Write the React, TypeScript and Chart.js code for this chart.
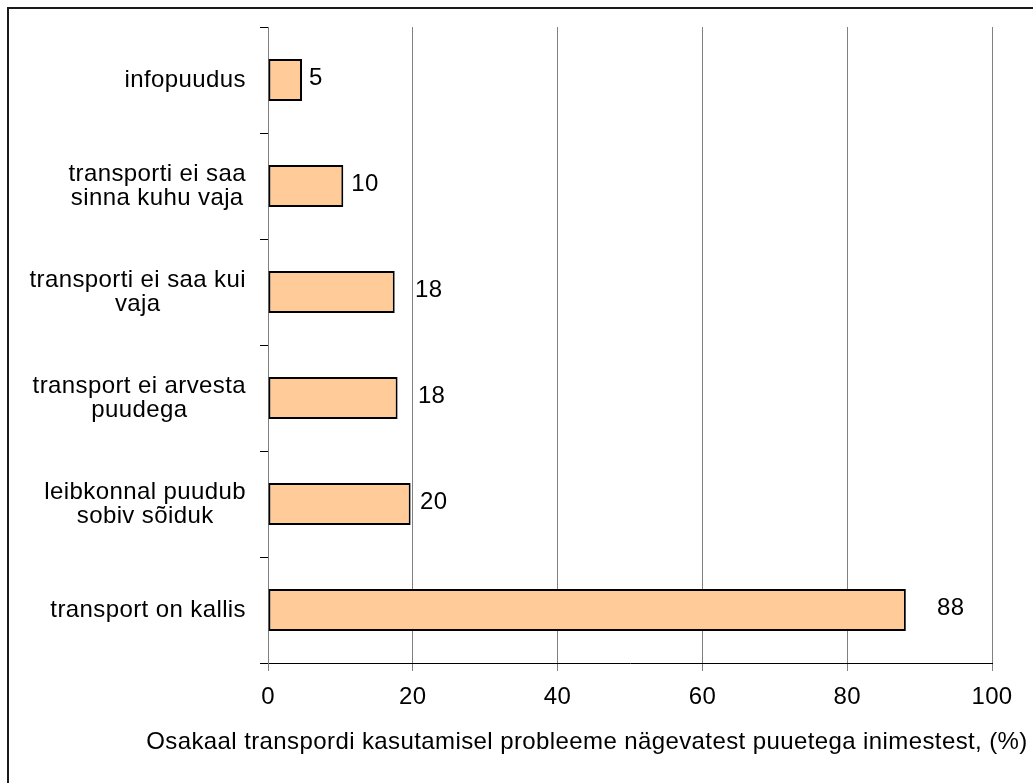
import React, { useEffect, useRef } from "react";
import { Chart, registerables } from "chart.js";

Chart.register(...registerables);

const categories: string[][] = [
  ["infopuudus"],
  ["transporti ei saa", "sinna kuhu vaja"],
  ["transporti ei saa kui", "vaja"],
  ["transport ei arvesta", "puudega"],
  ["leibkonnal puudub", "sobiv sõiduk"],
  ["transport on kallis"],
];
const barValues = [4.7, 10.4, 17.5, 17.9, 19.7, 88.1];
const valueLabels = ["5", "10", "18", "18", "20", "88"];
const labelAnchors = [6.6, 13.4, 22.2, 22.6, 22.9, 94.3];
const xTickValues = [0, 20, 40, 60, 80, 100];
const axisTitle =
  "Osakaal transpordi kasutamisel probleeme nägevatest puuetega inimestest, (%)";

const FONT_FAMILY = '"Liberation Sans", Arial, sans-serif';
const FONT_SIZE = 24;
const LETTER_SPACING = "0.4px";

const textPlugin = {
  id: "customText",
  beforeDraw(chart: any) {
    const ctx = chart.ctx as CanvasRenderingContext2D;
    ctx.save();
    ctx.fillStyle = "#ffffff";
    ctx.fillRect(0, 0, chart.width, chart.height);
    ctx.fillStyle = "#1a1a1a";
    ctx.fillRect(7, 7, 2, chart.height);
    ctx.fillRect(7, 7, chart.width, 2);
    ctx.restore();
    (ctx as any).letterSpacing = LETTER_SPACING;
  },
  afterDraw(chart: any) {
    const ctx = chart.ctx as CanvasRenderingContext2D;
    const yScale = chart.scales.y;
    const xScale = chart.scales.x;
    const area = chart.chartArea;
    ctx.save();
    (ctx as any).letterSpacing = LETTER_SPACING;
    ctx.font = `${FONT_SIZE}px ${FONT_FAMILY}`;
    ctx.fillStyle = "#000";
    ctx.textBaseline = "middle";
    ctx.textAlign = "center";
    const lineGap = 24;
    const rightEdge = area.left - 22;
    categories.forEach((lines, i) => {
      const yc = yScale.getPixelForValue(i);
      const maxW = Math.max(...lines.map((l) => ctx.measureText(l).width));
      const xc = rightEdge - maxW / 2;
      lines.forEach((line, j) => {
        ctx.fillText(line, xc, yc + (j - (lines.length - 1) / 2) * lineGap);
      });
    });
    const meta = chart.getDatasetMeta(0);
    meta.data.forEach((bar: any, i: number) => {
      ctx.fillText(valueLabels[i], xScale.getPixelForValue(labelAnchors[i]), bar.y - 2);
    });
    ctx.fillText(axisTitle, 587, 742);
    ctx.restore();
  },
};

export default function App() {
  const canvasRef = useRef<HTMLCanvasElement | null>(null);

  useEffect(() => {
    if (!canvasRef.current) return;
    const chart = new Chart(canvasRef.current, {
      type: "bar",
      data: {
        labels: categories.map((c) => c.join(" ")),
        datasets: [
          {
            data: barValues,
            backgroundColor: "#FFCC99",
            borderColor: "#000000",
            borderWidth: 2,
            borderSkipped: false,
            barPercentage: 0.395,
            categoryPercentage: 1,
          },
        ],
      },
      options: {
        indexAxis: "y",
        responsive: false,
        animation: false,
        events: [],
        layout: { padding: { top: 27, right: 41, bottom: 0, left: 0 } },
        plugins: {
          legend: { display: false },
          tooltip: { enabled: false },
          title: { display: false },
        },
        scales: {
          x: {
            type: "linear",
            min: 0,
            max: 100,
            afterBuildTicks: (scale: any) => {
              scale.ticks = xTickValues.map((v) => ({ value: v }));
            },
            afterFit: (scale: any) => {
              scale.height = 120;
            },
            ticks: {
              color: "#000",
              font: { family: FONT_FAMILY, size: FONT_SIZE },
              padding: 12,
              maxRotation: 0,
            },
            grid: {
              color: "#808080",
              lineWidth: 1,
              tickLength: 8,
              drawTicks: true,
            },
            border: { color: "#000", width: 1 },
          },
          y: {
            type: "category",
            offset: true,
            afterFit: (scale: any) => {
              scale.width = 268;
            },
            ticks: { display: false },
            grid: {
              offset: true,
              drawOnChartArea: false,
              drawTicks: true,
              tickLength: 8,
              color: "#000",
              lineWidth: 1,
            },
            border: { color: "#808080", width: 1 },
          },
        },
      },
      plugins: [textPlugin],
    } as any);
    return () => chart.destroy();
  }, []);

  return (
    <div style={{ position: "absolute", left: 0, top: 0, width: 1033, height: 783 }}>
      <canvas ref={canvasRef} width={1033} height={783} style={{ display: "block" }} />
    </div>
  );
}
